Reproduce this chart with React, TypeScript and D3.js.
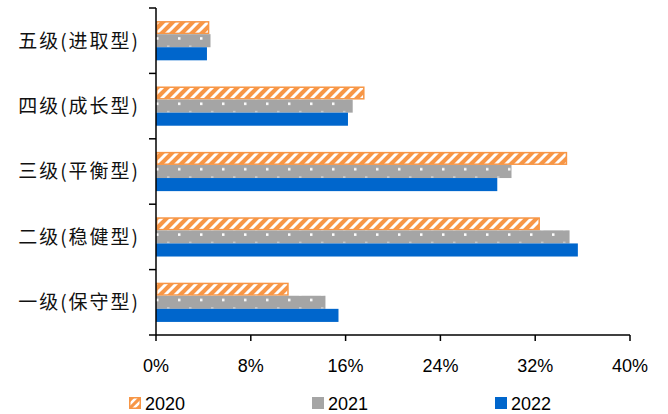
import React from "react";
import * as d3 from "d3";

const categories = ["五级(进取型)", "四级(成长型)", "三级(平衡型)", "二级(稳健型)", "一级(保守型)"];
const seriesNames = ["2020", "2021", "2022"];
const values2020 = [4.5, 17.6, 34.7, 32.4, 11.2];
const values2021 = [4.6, 16.6, 30.0, 34.9, 14.3];
const values2022 = [4.3, 16.2, 28.8, 35.6, 15.4];
const xTicks = [0, 8, 16, 24, 32, 40];

const W = 668;
const H = 414;
const left = 156;
const right = 630;
const top = 8;
const bottom = 335;

const colors = ["#F79646", "#A5A5A5", "#0066CC"];
const fills = ["url(#pat2020)", "url(#pat2021)", "#0066CC"];

export default function App() {
  const x = d3.scaleLinear().domain([0, 40]).range([left, right]);
  const y = d3.scaleBand<string>().domain(categories).range([top, bottom]).paddingInner(0.4).paddingOuter(0.2);
  const ys = d3.scaleBand<string>().domain(seriesNames).range([0, y.bandwidth()]);
  const allValues = [values2020, values2021, values2022];
  const step = y.step();
  const boundaries = d3.range(categories.length + 1).map((i) => top + i * step);
  const sh = ys.bandwidth();

  const legendX = [129, 312, 495];
  const textFont = "Arial, 'Liberation Sans', sans-serif";

  return (
    <svg width={W} height={H} style={{ position: "absolute", left: 0, top: 0, background: "#fff" }}>
      <defs>
        <pattern id="pat2020" patternUnits="userSpaceOnUse" width="10" height="10">
          <rect width="10" height="10" fill="#F79646" />
          <path d="M-2.5,2.5 l5,-5 M0,10 l10,-10 M7.5,12.5 l5,-5" stroke="#fff" strokeWidth="3" />
        </pattern>
        <pattern id="pat2021" patternUnits="userSpaceOnUse" width="22" height={sh} y={y(categories[0])! + ys("2021")!}>
          <rect width="22" height={sh} fill="#A5A5A5" />
          <rect x="2" y="3" width="2.5" height="2.5" fill="#fff" />
          <rect x="13" y={sh - 1.6} width="2.5" height="1.4" fill="#d6d6d6" />
        </pattern>
        <pattern id="legend2020" patternUnits="userSpaceOnUse" width="8" height="8" x={legendX[0]} y={397}>
          <rect width="8" height="8" fill="#F79646" />
          <path d="M-2,2 l4,-4 M0,8 l8,-8 M6,10 l4,-4" stroke="#fff" strokeWidth="2.6" />
        </pattern>
      </defs>

      {categories.map((c, ci) =>
        allValues.map((vals, si) => {
          const s = seriesNames[si];
          const y0 = y(c)! + ys(s)!;
          const h = ys.bandwidth();
          const w = x(vals[ci]) - x(0);
          if (si === 0) {
            return (
              <rect key={c + s} x={x(0) + 0.75} y={y0 + 0.75} width={w - 1.5} height={h - 1.5}
                fill={fills[si]} stroke={colors[si]} strokeWidth={1.5} />
            );
          }
          return <rect key={c + s} x={x(0)} y={y0} width={w} height={h} fill={fills[si]} />;
        })
      )}

      {/* y axis */}
      <line x1={left} x2={left} y1={top} y2={bottom} stroke="#000" strokeWidth={1.5} />
      {boundaries.map((b, i) => (
        <line key={"yt" + i} x1={left - 7} x2={left} y1={b} y2={b} stroke="#000" strokeWidth={1.5} />
      ))}
      {/* x axis */}
      <line x1={left} x2={right} y1={bottom} y2={bottom} stroke="#000" strokeWidth={1.5} />
      {xTicks.map((t) => (
        <line key={"xt" + t} x1={x(t)} x2={x(t)} y1={bottom} y2={bottom + 6} stroke="#000" strokeWidth={1.5} />
      ))}
      {xTicks.map((t) => (
        <text key={"xl" + t} x={x(t)} y={372} textAnchor="middle" fontSize={18} fontFamily={textFont} fill="#000">
          {t + "%"}
        </text>
      ))}

      {categories.map((c) => (
        <text key={"cl" + c} x={140} y={y(c)! + y.bandwidth() / 2} dy="0.36em" textAnchor="end"
          fontSize={19} letterSpacing={2} fontFamily="'Noto Sans CJK SC', sans-serif" fill="#111">
          {c}
        </text>
      ))}

      {seriesNames.map((s, i) => (
        <g key={"lg" + s}>
          {i === 0 ? (
            <rect x={legendX[i] + 0.75} y={397.75} width={10.5} height={10.5} fill="url(#legend2020)" stroke={colors[i]} strokeWidth={1.5} />
          ) : (
            <rect x={legendX[i]} y={397} width={12} height={12} fill={colors[i]} />
          )}
          <text x={legendX[i] + 16} y={410} fontSize={18} fontFamily={textFont} fill="#000">
            {s}
          </text>
        </g>
      ))}
    </svg>
  );
}
